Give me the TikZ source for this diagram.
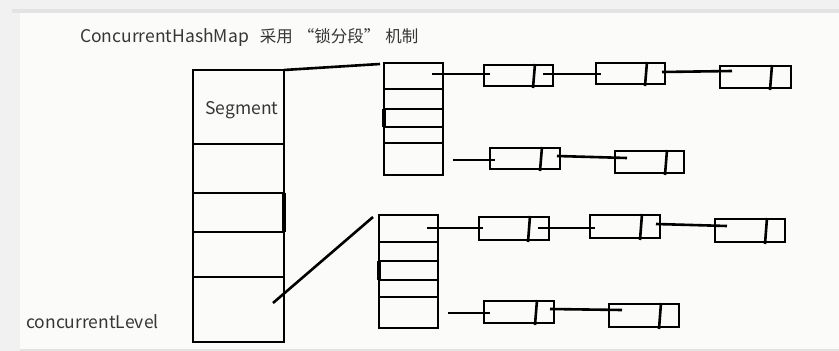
\documentclass[tikz,border=0pt]{standalone}
\usepackage{fontspec}
\setmainfont{Noto Sans CJK SC}
\definecolor{bgout}{HTML}{F1F1F1}
\definecolor{panel}{HTML}{FBFBF9}
\definecolor{edge}{HTML}{E3E3E3}
\definecolor{txt}{HTML}{363636}
\newcommand\cjksize{\fontsize{16.5}{18}\selectfont}
\tikzset{
  ln/.style={line width=2.6pt, black},
  cell/.style={draw, ln, inner sep=0pt, outer sep=0pt},
  lbl/.style={text=txt, font=\fontsize{17.5}{20}\selectfont, inner sep=0pt},
}
% name, x1, y1, x2, y2
\newcommand\cellbox[5]{%
  \node[cell, minimum width={(#4-#2)*1pt}, minimum height={(#5-#3)*1pt}] (#1) at ({(#2+#4)/2},{(#3+#5)/2}) {};}
% name, x1, y1, x2, y2, divider x
\newcommand\listnode[6]{%
  \cellbox{#1}{#2}{#3}{#4}{#5}%
  \draw[ln] ({#6+1},{#3-1}) -- ({#6-1},{#5+2});}
\begin{document}
\begin{tikzpicture}[x=1pt,y=-1pt]
\useasboundingbox (0,0) rectangle (839,351);
\fill[bgout] (0,0) rectangle (839,351);
\fill[edge] (12,9) rectangle (839,13);
\fill[panel] (20,13) rectangle (839,349);
\fill[edge] (20,349) rectangle (839,351);

% title and labels
\node[lbl, anchor=west] (title) at (80,38) {ConcurrentHashMap\hspace{11pt}{\cjksize 采用\hspace{5pt}“锁分段”\hspace{5pt}机制}};
\node[lbl, anchor=west] (level) at (26,322) {concurrentLevel};

% main segment column
\cellbox{s1}{193}{70}{284}{144}
\cellbox{s2}{193}{144}{284}{193}
\cellbox{s3}{193}{193}{284}{232}
\cellbox{s4}{193}{232}{284}{277}
\cellbox{s5}{193}{277}{284}{342}
\draw[line width=3.8pt] (s3.north east) -- (s3.south east);
\node[lbl] (segtxt) at (242,110) {Segment};

% upper hash array
\cellbox{a1}{384}{63}{443}{89}
\cellbox{a2}{384}{89}{443}{109}
\cellbox{a3}{384}{109}{443}{127}
\cellbox{a4}{384}{127}{443}{143}
\cellbox{a5}{384}{143}{443}{175}
\draw[line width=4pt] (a3.north west) -- (a3.south west);

% lower hash array
\cellbox{b1}{379}{215}{438}{242}
\cellbox{b2}{379}{242}{438}{261}
\cellbox{b3}{379}{261}{438}{280}
\cellbox{b4}{379}{280}{438}{297}
\cellbox{b5}{379}{297}{438}{328}
\draw[line width=4pt] (b3.north west) -- (b3.south west);

% segment to array connectors
\coordinate (c1) at (380,64);
\coordinate (c2) at (273,303);
\coordinate (c3) at (373,217);
\draw[ln] (s1.north east) -- (c1);
\draw[ln] (c2) -- (c3);

% upper chains
\listnode{u1}{484}{65}{553}{86}{534}
\listnode{u2}{596}{63}{665}{84}{646}
\listnode{u3}{720}{66}{791}{88}{771}
\listnode{v1}{490}{148}{560}{169}{541}
\listnode{v2}{615}{151}{684}{173}{666}
\coordinate (ustart) at (432,74);
\coordinate (vstart) at (453,160);
\draw[ln] (ustart) -- ([xshift=6pt,yshift=1.5pt]u1.west);
\draw[ln] ([xshift=-10pt,yshift=1.5pt]u1.east) -- ([xshift=5pt,yshift=-0.5pt]u2.west);
\draw[ln] ([xshift=-3pt,yshift=1.5pt]u2.east) -- ([xshift=12pt,yshift=6pt]u3.west);
\draw[ln] (vstart) -- ([xshift=5pt,yshift=-1.5pt]v1.west);
\draw[ln] ([xshift=-3pt,yshift=2.5pt]v1.east) -- ([xshift=12pt,yshift=4pt]v2.west);

% lower chains
\listnode{w1}{479}{217}{549}{240}{529}
\listnode{w2}{590}{215}{660}{238}{641}
\listnode{w3}{715}{219}{785}{242}{766}
\listnode{z1}{484}{301}{554}{323}{536}
\listnode{z2}{609}{304}{679}{327}{660}
\coordinate (wstart) at (427,228);
\coordinate (zstart) at (448,313);
\draw[ln] (wstart) -- ([xshift=4pt,yshift=0.5pt]w1.west);
\draw[ln] ([xshift=-11pt,yshift=0.5pt]w1.east) -- ([xshift=5pt,yshift=-1.5pt]w2.west);
\draw[ln] ([xshift=-4pt,yshift=2.5pt]w2.east) -- ([xshift=12pt,yshift=4.5pt]w3.west);
\draw[ln] (zstart) -- ([xshift=6pt,yshift=-1pt]z1.west);
\draw[ln] ([xshift=-4pt,yshift=3pt]z1.east) -- ([xshift=13pt,yshift=5.5pt]z2.west);
\end{tikzpicture}
\end{document}
